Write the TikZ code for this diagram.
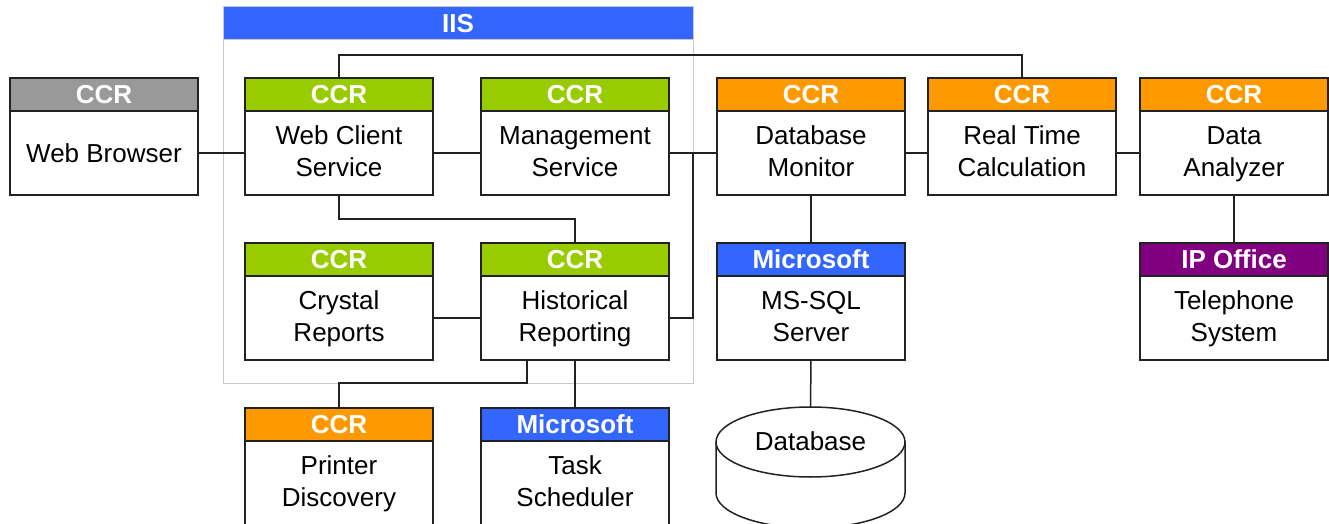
\documentclass[tikz,border=0pt]{standalone}
\usepackage{fontspec}
\setmainfont{Liberation Sans}
\definecolor{ccrgreen}{HTML}{99CC00}
\definecolor{ccrorange}{HTML}{FF9900}
\definecolor{msblue}{HTML}{3366FF}
\definecolor{ipurple}{HTML}{800080}
\definecolor{ccrgray}{HTML}{999999}
\definecolor{iisline}{HTML}{C8C8C8}
\definecolor{edge}{HTML}{222222}
\newcommand\ls{\rule[-3.35pt]{0pt}{15.99pt}}
\newcommand\lt{\rule[-4.35pt]{0pt}{15.99pt}}
\tikzset{
 hdr/.style={draw=edge, line width=0.75pt, outer sep=0pt, minimum width=94pt, minimum height=16.5pt, inner sep=0pt, text=white, font=\fontsize{13}{15}\selectfont\bfseries, anchor=north west},
 bodybox/.style={draw=edge, line width=0.75pt, outer sep=0pt, fill=white, minimum width=94pt, minimum height=42pt, inner sep=0pt, align=center, font=\fontsize{13}{16}\selectfont, anchor=north},
 wire/.style={draw=edge, line width=0.75pt},
 iishdr/.style={draw=iisline, line width=0.5pt, fill=msblue, outer sep=0pt, minimum width=235pt, minimum height=16.5pt, inner sep=0pt, text=white, font=\fontsize{13}{15}\selectfont\bfseries, anchor=north west},
}
\newcommand\comp[6]{%
 \node[hdr, fill=#4] (#1h) at (#2,#3) {#5};
 \node[bodybox] (#1) at (#1h.south) {#6};
}
\begin{document}
\begin{tikzpicture}[x=0.5pt,y=-0.5pt]
\clip (0,0) rectangle (1329,524);
\fill[white] (0,0) rectangle (1329,524);
% IIS container
\draw[draw=iisline, line width=0.5pt] (223,7) rectangle (693,383);
\node[iishdr] (iis) at (223,7) {IIS};
% boxes
\comp{wb}{10}{78}{ccrgray}{CCR}{Web Browser\ls}
\comp{wc}{245}{78}{ccrgreen}{CCR}{Web Client\lt\\Service\lt}
\comp{mg}{481}{78}{ccrgreen}{CCR}{Management\lt\\Service\lt}
\comp{dbm}{717}{78}{ccrorange}{CCR}{Database\lt\\Monitor\lt}
\comp{rtc}{928}{78}{ccrorange}{CCR}{Real Time\lt\\Calculation\lt}
\comp{da}{1140}{78}{ccrorange}{CCR}{Data\lt\\Analyzer\lt}
\comp{cr}{245}{243}{ccrgreen}{CCR}{Crystal\lt\\Reports\lt}
\comp{hr}{481}{243}{ccrgreen}{CCR}{Historical\lt\\Reporting\lt}
\comp{mss}{717}{243}{msblue}{Microsoft}{MS-SQL\lt\\Server\lt}
\comp{tel}{1140}{243}{ipurple}{IP Office}{Telephone\lt\\System\lt}
\comp{pd}{245}{408}{ccrorange}{CCR}{Printer\lt\\Discovery\lt}
\comp{ts}{481}{408}{msblue}{Microsoft}{Task\lt\\Scheduler\lt}
% database cylinder
\draw[wire, fill=white] (716,442) -- (716,493) arc[start angle=180, end angle=0, x radius=94.5, y radius=35] -- (905,442);
\draw[wire, fill=white] (810.5,442) ellipse [x radius=94.5, y radius=35];
\node[font=\fontsize{13}{16}\selectfont, inner sep=0pt] (db) at (810.5,441) {Database\ls};
\coordinate (dbtop) at (810.5,407);
% bus coordinates
\coordinate (topbus) at (0,55);
\coordinate (midbus) at (0,219);
\coordinate (lowbus) at (0,383);
\coordinate (rbus) at (693,0);
\coordinate (hrl) at ([xshift=-24pt]hr.south);
% connectors
\draw[wire] (wb.east) -- (wc.west);
\draw[wire] (wc.east) -- (mg.west);
\draw[wire] (mg.east) -- (dbm.west);
\draw[wire] (dbm.east) -- (rtc.west);
\draw[wire] (rtc.east) -- (da.west);
\draw[wire] (dbm.south) -- (mssh.north);
\draw[wire] (da.south) -- (telh.north);
\draw[wire] (cr.east) -- (hr.west);
\draw[wire] (wch.north) -- (wch.north |- topbus) -| (rtch.north);
\draw[wire] (wc.south) -- (wc.south |- midbus) -| (hrh.north);
\draw[wire] (mg.east -| rbus) |- (hr.east);
\draw[wire] (hr.south) -- (tsh.north);
\draw[wire] (hrl) -- (hrl |- lowbus) -| (pdh.north);
\draw[wire] (mss.south) -- (dbtop);
\end{tikzpicture}
\end{document}
